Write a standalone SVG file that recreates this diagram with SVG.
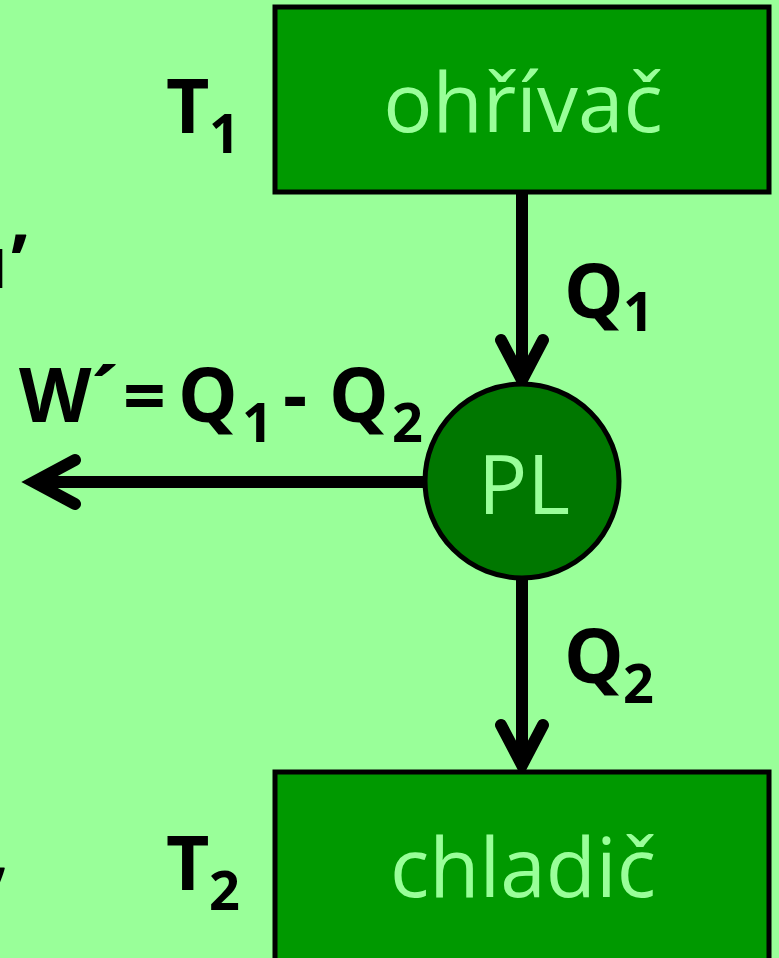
<svg xmlns="http://www.w3.org/2000/svg" width="779" height="958" viewBox="0 0 779 958">
<style>
.box{fill:#009900;stroke:#000;stroke-width:5}
.circ{fill:#007700;stroke:#000;stroke-width:5}
.nt{font-family:"Open Sans","Liberation Sans",sans-serif;font-size:82px;fill:#99FF99;text-anchor:middle}
.lb{font-family:"Open Sans","Liberation Sans",sans-serif;font-size:75px;font-weight:bold;fill:#000}
.sb{font-size:54px}
.ln{stroke:#000;stroke-width:12;fill:none}
.hd{stroke:#000;stroke-width:12;fill:none;stroke-linecap:round;stroke-linejoin:miter}
</style>
<rect width="779" height="958" fill="#99FF99"/>
<g id="connectors">
<line class="ln" x1="522" y1="194" x2="522" y2="378"/>
<polyline class="hd" points="501,340 522,380 543,340"/>
<line class="ln" x1="522" y1="580" x2="522" y2="765"/>
<polyline class="hd" points="501,725 522,765 543,725"/>
<line class="ln" x1="424" y1="482" x2="36" y2="482"/>
<polyline class="hd" points="75,460 34,482 75,504"/>
</g>
<g id="ohrivac">
<rect class="box" x="275" y="7" width="494" height="185"/>
<text class="nt" x="523" y="132">ohřívač</text>
</g>
<g id="PL">
<circle class="circ" cx="522" cy="481" r="97"/>
<text class="nt" x="524" y="514">PL</text>
</g>
<g id="chladic">
<rect class="box" x="275" y="772" width="494" height="200"/>
<text class="nt" x="523" y="897">chladič</text>
</g>
<g id="labels">
<text class="lb" x="166" y="133">T<tspan class="sb" x="209" y="153">1</tspan></text>
<text class="lb" x="166" y="890">T<tspan class="sb" x="209" y="910">2</tspan></text>
<text class="lb" x="564" y="318">Q<tspan class="sb" x="623" y="331">1</tspan></text>
<text class="lb" x="564" y="683">Q<tspan class="sb" x="623" y="703">2</tspan></text>
<text class="lb" x="19" y="422">W´<tspan x="123">=</tspan><tspan x="178">Q</tspan><tspan class="sb" x="242" y="442">1</tspan><tspan x="283" y="422">-</tspan><tspan x="329">Q</tspan><tspan class="sb" x="392" y="442">2</tspan></text>
<text class="lb" x="-20" y="288"><tspan class="sb">1</tspan>’</text>
<text class="lb" x="-12" y="876">,</text>
</g>
</svg>
